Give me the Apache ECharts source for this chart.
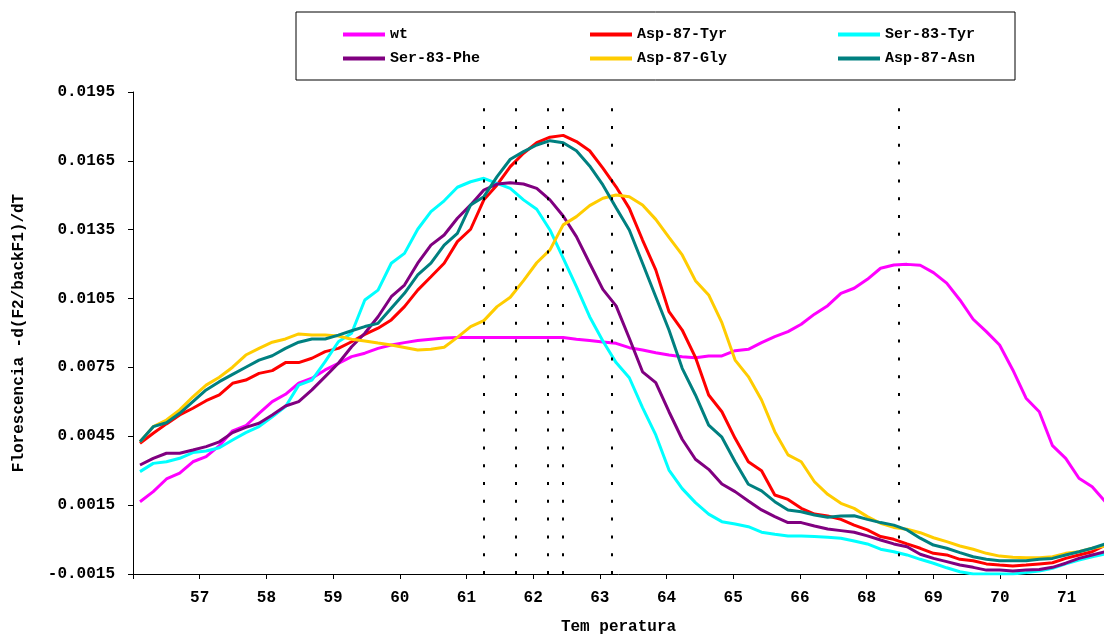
<!DOCTYPE html>
<html>
<head>
<meta charset="utf-8">
<script src="https://cdn.jsdelivr.net/npm/echarts/dist/echarts.min.js"></script>
<style>
  html, body { margin: 0; padding: 0; background: #fff; }
  #chart { width: 1104px; height: 635px; }
</style>
</head>
<body>
<div id="chart"></div>
<script>
// tick labels, one per tick slot (slot 0 sits on the y axis)
const tickLabels = ['', '57', '58', '59', '60', '61', '62', '63', '64', '65', '66', '68', '69', '70', '71'];
// the readings: first sample and sample spacing, in tick-slot units
const xStart = 0.105;
const xStep = 0.1983;
// dotted marker lines (peak positions), in sample numbers
const peakSamples = [26.0, 28.4, 30.8, 32.0, 35.7, 57.4];

const seriesNames = ['wt', 'Asp-87-Tyr', 'Ser-83-Tyr', 'Ser-83-Phe', 'Asp-87-Gly', 'Asp-87-Asn'];
const seriesColors = ['#ff00ff', '#ff0000', '#00ffff', '#800080', '#ffcc00', '#008080'];

const wt = [
  0.00165, 0.00209, 0.00264, 0.00289, 0.00339, 0.00361, 0.00409, 0.00474, 0.00496, 0.00550,
  0.00601, 0.00633, 0.00681, 0.00703, 0.00739, 0.00768, 0.00797, 0.00812, 0.00833, 0.00848,
  0.00858, 0.00867, 0.00873, 0.00878, 0.00880, 0.00880, 0.00880, 0.00880, 0.00880, 0.00880,
  0.00880, 0.00880, 0.00880, 0.00873, 0.00867, 0.00861, 0.00855, 0.00836, 0.00826, 0.00814,
  0.00804, 0.00797, 0.00792, 0.00800, 0.00800, 0.00823, 0.00829, 0.00858, 0.00884, 0.00906,
  0.00938, 0.00982, 0.01019, 0.01073, 0.01095, 0.01134, 0.01182, 0.01196, 0.01199, 0.01195,
  0.01163, 0.01117, 0.01044, 0.00960, 0.00906, 0.00848, 0.00739, 0.00616, 0.00557, 0.00409,
  0.00354, 0.00267, 0.00230, 0.00164
];
const asp87Tyr = [
  0.00419, 0.00463, 0.00504, 0.00543, 0.00572, 0.00605, 0.00630, 0.00681, 0.00695, 0.00724,
  0.00736, 0.00771, 0.00771, 0.00790, 0.00819, 0.00833, 0.00862, 0.00894, 0.00921, 0.00957,
  0.01015, 0.01087, 0.01145, 0.01204, 0.01298, 0.01352, 0.01480, 0.01545, 0.01625, 0.01683,
  0.01729, 0.01753, 0.01761, 0.01734, 0.01694, 0.01618, 0.01537, 0.01443, 0.01305, 0.01175,
  0.00993, 0.00913, 0.00794, 0.00630, 0.00557, 0.00441, 0.00339, 0.00300, 0.00194, 0.00175,
  0.00136, 0.00111, 0.00103, 0.00088, 0.00063, 0.00042, 0.00013, 0.00001, -0.00019, -0.00038,
  -0.00060, -0.00067, -0.00086, -0.00092, -0.00106, -0.00111, -0.00115, -0.00111, -0.00106, -0.00101,
  -0.00082, -0.00067, -0.00053, -0.00024
];
const ser83Tyr = [
  0.00296, 0.00332, 0.00339, 0.00354, 0.00379, 0.00386, 0.00400, 0.00434, 0.00466, 0.00492,
  0.00535, 0.00579, 0.00673, 0.00695, 0.00775, 0.00862, 0.00899, 0.01044, 0.01087, 0.01204,
  0.01247, 0.01352, 0.01429, 0.01476, 0.01535, 0.01559, 0.01574, 0.01552, 0.01530, 0.01480,
  0.01439, 0.01349, 0.01226, 0.01102, 0.00971, 0.00865, 0.00771, 0.00705, 0.00575, 0.00456,
  0.00303, 0.00222, 0.00161, 0.00111, 0.00078, 0.00068, 0.00056, 0.00032, 0.00023, 0.00016,
  0.00016, 0.00013, 0.00010, 0.00006, -0.00006, -0.00019, -0.00042, -0.00053, -0.00067, -0.00086,
  -0.00103, -0.00123, -0.00140, -0.00150, -0.00150, -0.00150, -0.00150, -0.00144, -0.00137, -0.00125,
  -0.00106, -0.00089, -0.00075, -0.00063
];
const ser83Phe = [
  0.00325, 0.00354, 0.00376, 0.00376, 0.00390, 0.00405, 0.00426, 0.00466, 0.00489, 0.00507,
  0.00543, 0.00582, 0.00601, 0.00652, 0.00710, 0.00768, 0.00840, 0.00899, 0.00971, 0.01058,
  0.01109, 0.01204, 0.01283, 0.01327, 0.01400, 0.01458, 0.01523, 0.01549, 0.01555, 0.01549,
  0.01530, 0.01480, 0.01410, 0.01320, 0.01204, 0.01090, 0.01018, 0.00877, 0.00731, 0.00684,
  0.00557, 0.00437, 0.00350, 0.00306, 0.00242, 0.00209, 0.00168, 0.00129, 0.00100, 0.00074,
  0.00074, 0.00059, 0.00046, 0.00039, 0.00032, 0.00016, -0.00002, -0.00019, -0.00031, -0.00064,
  -0.00082, -0.00096, -0.00111, -0.00121, -0.00133, -0.00133, -0.00137, -0.00133, -0.00130, -0.00121,
  -0.00103, -0.00082, -0.00067, -0.00053
];
const asp87Gly = [
  0.00426, 0.00492, 0.00521, 0.00565, 0.00622, 0.00673, 0.00707, 0.00751, 0.00804, 0.00833,
  0.00860, 0.00874, 0.00896, 0.00891, 0.00891, 0.00887, 0.00873, 0.00865, 0.00856, 0.00848,
  0.00837, 0.00826, 0.00829, 0.00838, 0.00881, 0.00928, 0.00954, 0.01015, 0.01056, 0.01128,
  0.01206, 0.01262, 0.01371, 0.01407, 0.01455, 0.01487, 0.01501, 0.01494, 0.01458, 0.01395,
  0.01317, 0.01240, 0.01128, 0.01066, 0.00945, 0.00782, 0.00710, 0.00608, 0.00470, 0.00369,
  0.00339, 0.00252, 0.00197, 0.00158, 0.00136, 0.00100, 0.00071, 0.00053, 0.00045, 0.00030,
  0.00008, -0.00009, -0.00028, -0.00042, -0.00060, -0.00072, -0.00077, -0.00079, -0.00079, -0.00075,
  -0.00060, -0.00053, -0.00038, -0.00028
];
const asp87Asn = [
  0.00426, 0.00492, 0.00509, 0.00550, 0.00601, 0.00652, 0.00688, 0.00720, 0.00751, 0.00782,
  0.00801, 0.00833, 0.00860, 0.00874, 0.00874, 0.00891, 0.00910, 0.00928, 0.00942, 0.01008,
  0.01073, 0.01153, 0.01204, 0.01283, 0.01334, 0.01458, 0.01494, 0.01581, 0.01657, 0.01690,
  0.01719, 0.01738, 0.01729, 0.01694, 0.01628, 0.01545, 0.01446, 0.01349, 0.01204, 0.01058,
  0.00913, 0.00746, 0.00630, 0.00499, 0.00446, 0.00339, 0.00241, 0.00212, 0.00165, 0.00129,
  0.00121, 0.00107, 0.00097, 0.00103, 0.00104, 0.00088, 0.00074, 0.00063, 0.00042, 0.00006,
  -0.00024, -0.00038, -0.00057, -0.00075, -0.00086, -0.00092, -0.00092, -0.00092, -0.00086, -0.00082,
  -0.00067, -0.00053, -0.00038, -0.00019
];

const allValues = [wt, asp87Tyr, ser83Tyr, ser83Phe, asp87Gly, asp87Asn];

const font = "'Liberation Mono', 'DejaVu Sans Mono', monospace";

function toPoints(values) {
  return values.map(function (v, k) { return [xStart + k * xStep, v]; });
}

// dotted vertical markers
const peakLines = peakSamples.map(function (p) {
  const x = xStart + p * xStep;
  return [{ coord: [x, -0.0015] }, { coord: [x, 0.0188] }];
});

const series = [{
  name: 'peaks',
  type: 'line',
  data: [],
  silent: true,
  markLine: {
    silent: true,
    symbol: 'none',
    label: { show: false },
    lineStyle: { color: '#000', width: 2, type: [3, 14.8], opacity: 1 },
    emphasis: { disabled: true },
    data: peakLines
  }
}];
seriesNames.forEach(function (name, i) {
  series.push({
    name: name,
    type: 'line',
    data: toPoints(allValues[i]),
    showSymbol: false,
    color: seriesColors[i],
    lineStyle: { width: 3, color: seriesColors[i] },
    emphasis: { disabled: true }
  });
});

// legend: 3 columns x 2 rows
const legendCols = [343, 590, 838];
const legendRows = [27, 51];
const legends = seriesNames.map(function (name, i) {
  return {
    data: [name],
    left: legendCols[i % 3],
    top: legendRows[Math.floor(i / 3)],
    padding: 0,
    icon: 'rect',
    itemWidth: 42,
    itemHeight: 4,
    selectedMode: false,
    textStyle: { fontFamily: font, fontWeight: 'bold', fontSize: 15, lineHeight: 15, color: '#000' }
  };
});

const chart = echarts.init(document.getElementById('chart'));
chart.setOption({
  animation: false,
  backgroundColor: '#fff',
  legend: legends,
  graphic: [{
    type: 'rect',
    shape: { x: 296, y: 12, width: 719, height: 68 },
    style: { fill: 'none', stroke: '#000', lineWidth: 1 }
  }],
  grid: { left: 133, top: 92, width: 971, height: 482, containLabel: false, outerBoundsMode: 'none' },
  xAxis: {
    type: 'value',
    min: 0,
    max: 14.56,
    interval: 1,
    name: 'Tem peratura',
    nameLocation: 'middle',
    nameGap: 45,
    nameTextStyle: { fontFamily: font, fontWeight: 'bold', fontSize: 16, color: '#000' },
    splitLine: { show: false },
    axisLine: { onZero: false, lineStyle: { color: '#000', width: 1 } },
    axisTick: { length: 5, lineStyle: { color: '#000' } },
    axisLabel: {
      margin: 16,
      fontFamily: font, fontWeight: 'bold', fontSize: 16, color: '#000',
      showMaxLabel: false,
      formatter: function (v) { return tickLabels[Math.round(v)] || ''; }
    }
  },
  yAxis: {
    type: 'value',
    min: -0.0015,
    max: 0.0195,
    interval: 0.003,
    name: 'Florescencia -d(F2/backF1)/dT',
    nameLocation: 'middle',
    nameGap: 106,
    nameTextStyle: { fontFamily: font, fontWeight: 'bold', fontSize: 16, color: '#000' },
    splitLine: { show: false },
    axisLine: { show: true, lineStyle: { color: '#000', width: 1 } },
    axisTick: { show: true, length: 5, lineStyle: { color: '#000' } },
    axisLabel: {
      margin: 18,
      fontFamily: font, fontWeight: 'bold', fontSize: 16, color: '#000',
      formatter: function (v) { return v.toFixed(4); }
    }
  },
  series: series
});
</script>
</body>
</html>
